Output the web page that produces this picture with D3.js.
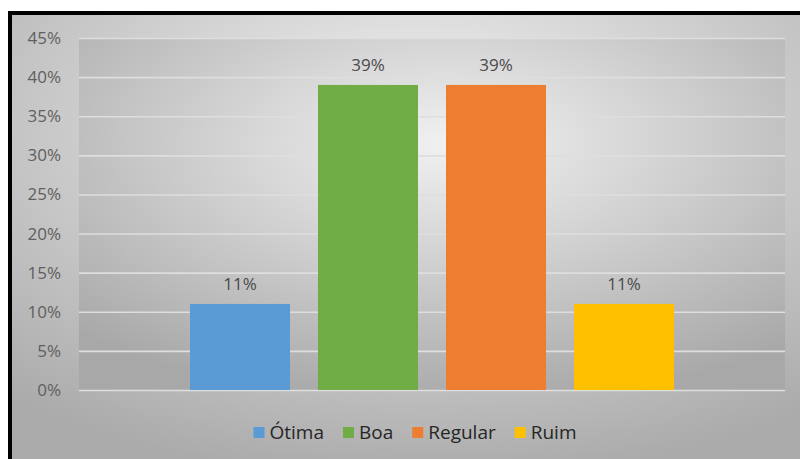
<!DOCTYPE html>
<html>
<head>
<meta charset="utf-8">
<script src="https://cdn.jsdelivr.net/npm/d3@7"></script>
<style>
  html, body { margin: 0; padding: 0; background: #ffffff; }
  svg { display: block; }
  text { font-family: "Open Sans", "Noto Sans", sans-serif; }
</style>
</head>
<body>
<svg id="chart" width="800" height="459"></svg>
<script>
// Survey answers: share of responses per rating
const series = ["Ótima", "Boa", "Regular", "Ruim"];
const values = [0.11, 0.39, 0.39, 0.11];
const labels = ["11%", "39%", "39%", "11%"];
const colors = ["#5b9bd5", "#70ad47", "#ed7d31", "#ffc000"];
const yTicks = [0, 0.05, 0.10, 0.15, 0.20, 0.25, 0.30, 0.35, 0.40, 0.45];

const svg = d3.select("#chart");
const W = 800, H = 459;
const plot = { left: 79, right: 785, top: 38, bottom: 390 };

const defs = svg.append("defs");
const outerGrad = defs.append("radialGradient")
  .attr("id", "outerBg").attr("cx", "52%").attr("cy", "25%").attr("r", "80%");
outerGrad.append("stop").attr("offset", "0%").attr("stop-color", "#f3f3f3");
outerGrad.append("stop").attr("offset", "100%").attr("stop-color", "#ababab");

const plotGrad = defs.append("radialGradient")
  .attr("id", "plotBg").attr("cx", "52%").attr("cy", "30%").attr("r", "75%");
plotGrad.append("stop").attr("offset", "0%").attr("stop-color", "#f1f1f1");
plotGrad.append("stop").attr("offset", "100%").attr("stop-color", "#a8a8a8");

// frame: black edge on top and left, chart area inside
svg.append("rect").attr("x", 8).attr("y", 11).attr("width", W - 8).attr("height", H - 11).attr("fill", "#000");
svg.append("rect").attr("x", 12).attr("y", 15).attr("width", W - 12).attr("height", H - 15).attr("fill", "url(#outerBg)");
svg.append("rect")
  .attr("x", plot.left).attr("y", plot.top)
  .attr("width", plot.right - plot.left).attr("height", plot.bottom - plot.top)
  .attr("fill", "url(#plotBg)");

const y = d3.scaleLinear().domain([0, 0.45]).range([plot.bottom, plot.top]);
const x = d3.scaleBand().domain(series).range([plot.left, plot.right])
  .paddingInner(0.21875).paddingOuter(0.867);

// value axis with gridlines
const yAxis = svg.append("g")
  .attr("transform", `translate(${plot.left},0)`)
  .call(d3.axisLeft(y).tickValues(yTicks).tickFormat(d3.format(".0%"))
    .tickSize(-(plot.right - plot.left)).tickPadding(18));
yAxis.select(".domain").remove();
yAxis.selectAll(".tick line").attr("stroke", "#dedede").attr("stroke-width", 1.6);
yAxis.selectAll(".tick text").attr("fill", "#5f5f5f").attr("font-size", 17);

// bars
svg.append("g").selectAll("rect").data(series).join("rect")
  .attr("x", d => x(d))
  .attr("y", (d, i) => y(values[i]))
  .attr("width", x.bandwidth())
  .attr("height", (d, i) => y(0) - y(values[i]))
  .attr("fill", (d, i) => colors[i]);

// value labels
svg.append("g").selectAll("text").data(series).join("text")
  .attr("x", d => x(d) + x.bandwidth() / 2)
  .attr("y", (d, i) => y(values[i]) - 14)
  .attr("text-anchor", "middle")
  .attr("fill", "#4a4a4a").attr("font-size", 17)
  .text((d, i) => labels[i]);

// legend
const legend = svg.append("g");
const items = legend.selectAll("g").data(series).join("g");
items.append("rect").attr("width", 11).attr("height", 11).attr("y", -12)
  .attr("fill", (d, i) => colors[i]);
items.append("text").attr("x", 16).attr("y", 0)
  .attr("fill", "#262626").attr("font-size", 19).text(d => d);
let cursor = 0;
items.each(function () {
  const g = d3.select(this);
  g.attr("transform", `translate(${cursor},0)`);
  cursor += 16 + g.select("text").node().getComputedTextLength() + 19;
});
const legendWidth = cursor - 19;
legend.attr("transform", `translate(${415 - legendWidth / 2},439)`);
</script>
</body>
</html>
